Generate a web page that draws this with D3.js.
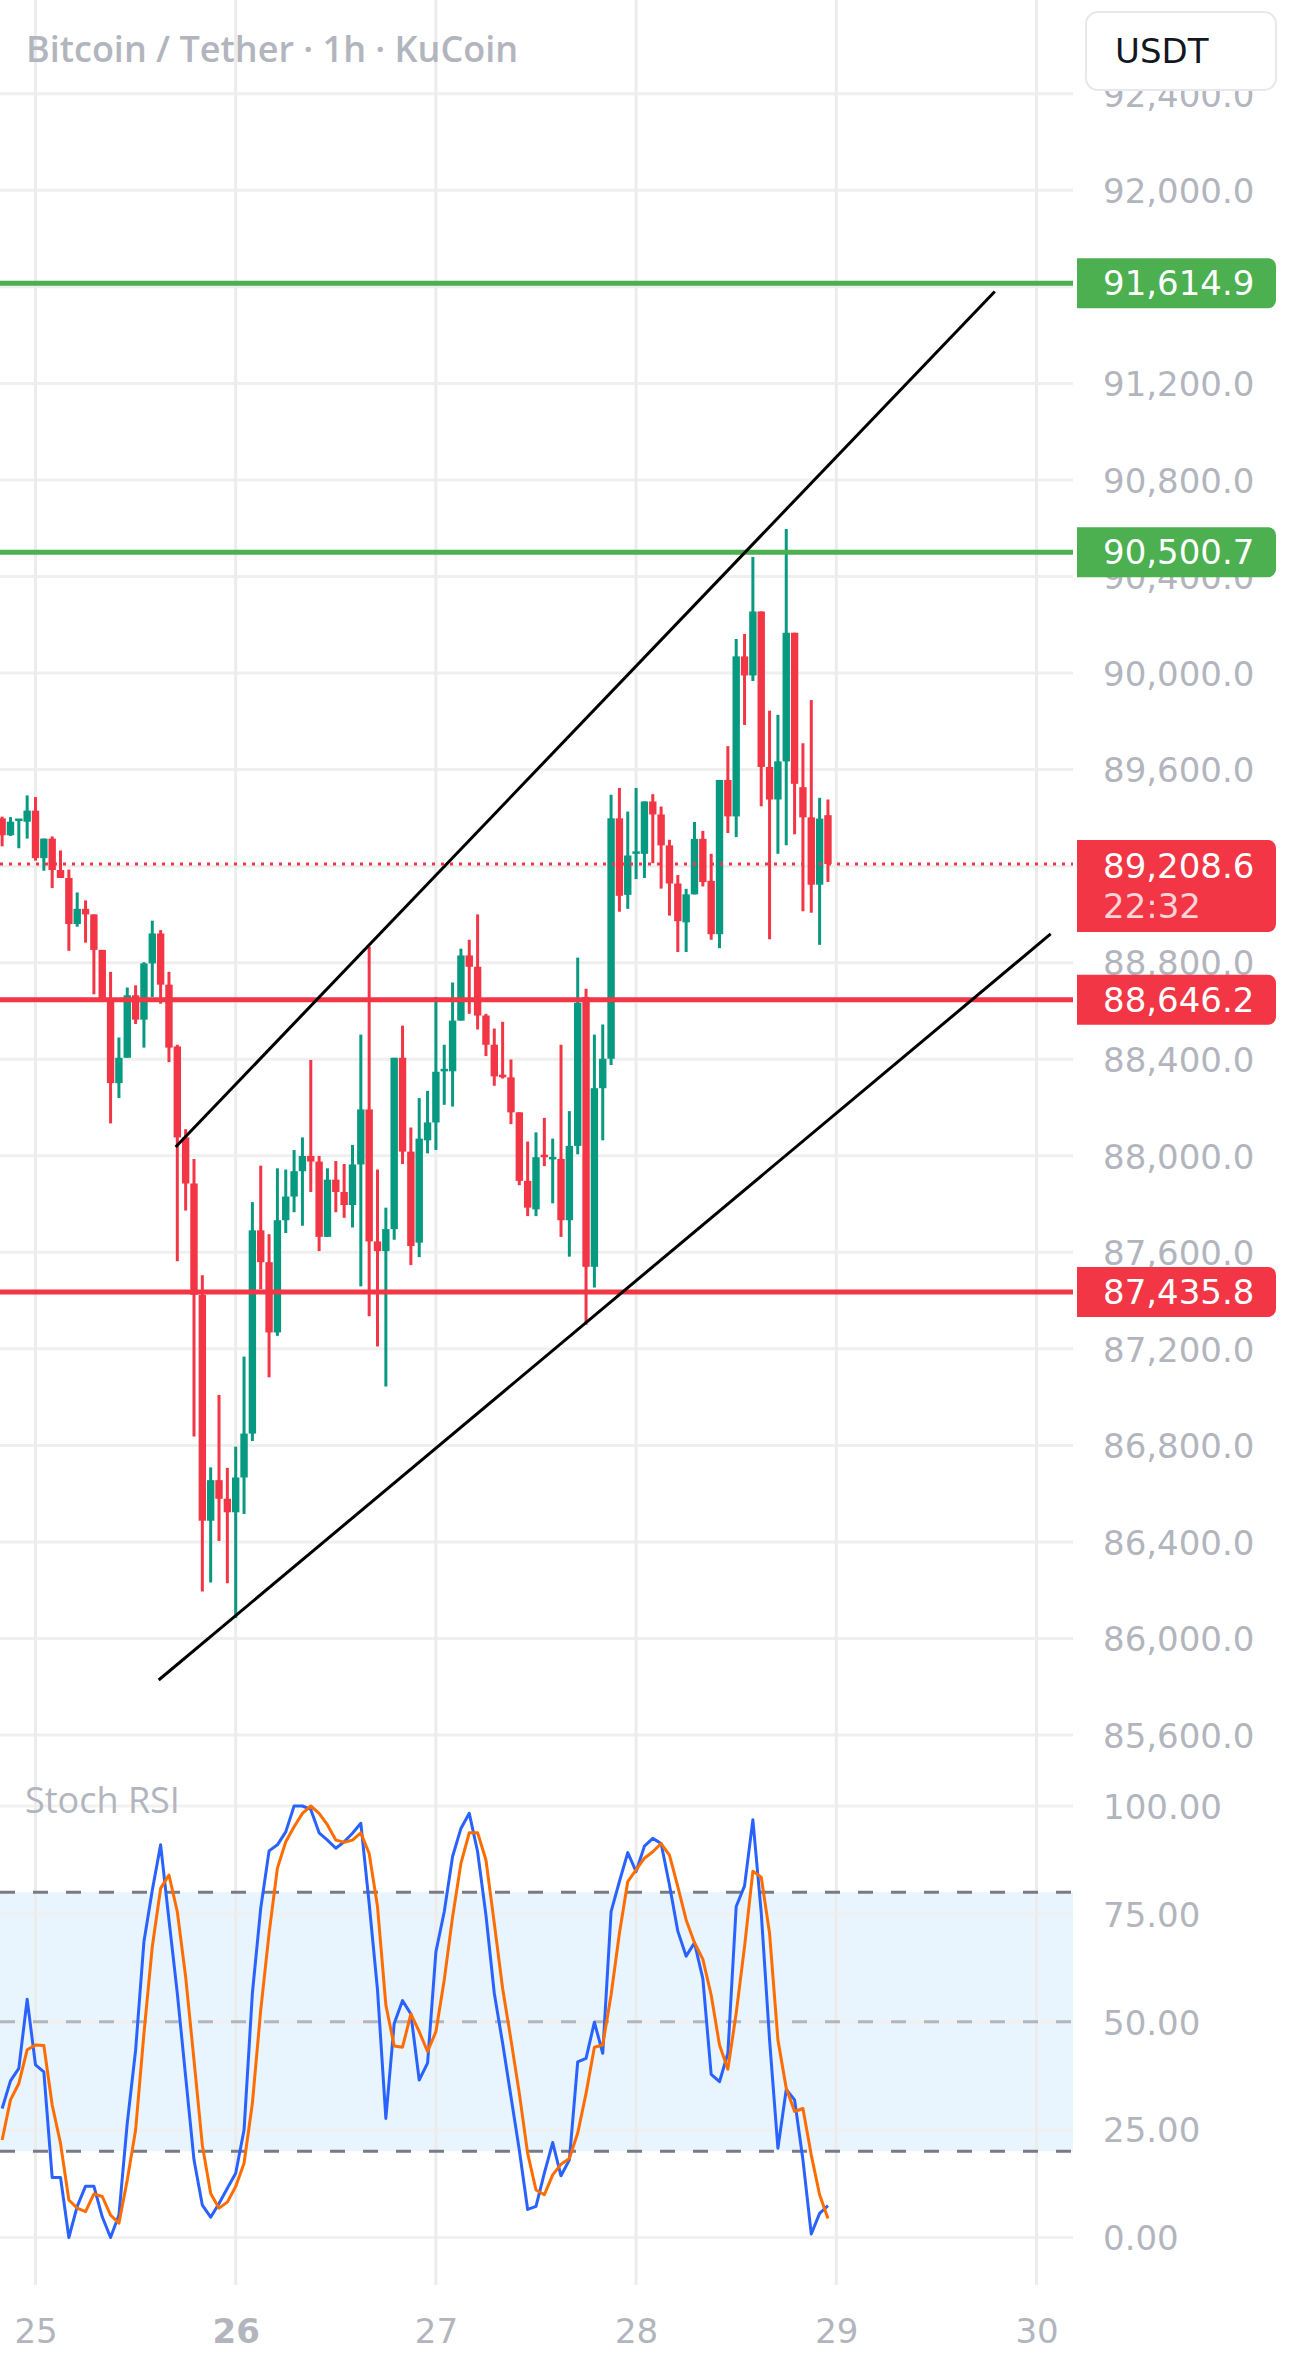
<!DOCTYPE html>
<html><head><meta charset="utf-8">
<script src="https://cdn.jsdelivr.net/npm/d3@7"></script>
<style>html,body{margin:0;padding:0;background:#fff}svg{display:block}</style>
</head><body>
<svg id="chart" width="1290" height="2370"></svg>
<script>
// ---------------- data ----------------
const title = "Bitcoin / Tether · 1h · KuCoin";
const indicatorName = "Stoch RSI";
const currency = "USDT";
const firstCandle = new Date(2025, 10, 24, 20); // hourly candles from Nov 24 20:00
const opens  = [89398,89328,89385,89384,89430,89233,89314,89184,89151,88960,89023,89000,88853,88651,88301,88406,88665,88564,88797,88921,88709,88453,88076,87885,87424,86488,86656,86579,86523,86667,86849,87691,87559,87268,87733,87831,87936,87999,87976,87664,87901,87850,87796,87964,88192,87645,87605,87696,88406,88017,87640,88064,88138,88348,88350,88560,88830,88783,88581,88460,88336,88325,88180,87896,87778,87999,87985,87987,87733,88041,88658,87540,88280,88402,89398,89081,89246,89251,89468,89414,89286,89128,88967,89083,89313,89139,88918,89557,89406,90069,89990,90255,89611,89476,89634,90167,89527,89402,89123,89411];
const highs  = [89405,89403,89392,89493,89486,89314,89323,89265,89186,89091,89058,89000,88853,88762,88490,88697,88706,88802,88974,88935,88762,88460,88110,87987,87505,86709,87009,86707,86795,87168,87808,87959,87675,87948,87943,88024,88076,88397,87999,87948,87978,87966,88045,88502,88867,87943,87785,88406,88539,88117,88239,88269,88658,88460,88718,88858,88895,89000,88588,88527,88555,88399,88180,88059,88097,88157,88071,88460,88185,88821,88692,88502,88544,89496,89524,89426,89524,89468,89498,89447,89309,89163,89106,89383,89346,89251,89557,89697,90141,90162,90481,90255,89844,89827,90597,90167,89709,89888,89483,89476];
const lows   = [89282,89325,89274,89314,89223,89181,89109,89151,88849,88949,88883,88669,88640,88134,88239,88406,88546,88448,88658,88630,88388,87563,87773,86837,86195,86232,86404,86229,86085,86516,86818,87447,87082,87254,87680,87766,87710,87850,87605,87664,87766,87743,87703,87459,87335,87210,87044,87652,87966,87547,87580,88010,88024,88211,88204,88560,88588,88523,88413,88290,88320,88131,87878,87750,87750,87957,87803,87664,87582,88006,87300,87454,88064,88376,89011,89023,89146,89151,89212,89107,88995,88844,88844,89083,89116,88895,88860,89337,89320,89785,89967,89448,88897,89251,89286,89332,89013,89007,88874,89134];
const closes = [89328,89384,89392,89430,89233,89314,89184,89151,88960,89023,89000,88853,88651,88301,88406,88665,88564,88797,88921,88709,88448,88076,87885,87424,86488,86656,86579,86523,86667,86849,87691,87559,87268,87733,87831,87936,87999,87976,87664,87901,87850,87796,87964,88192,87645,87605,87696,88406,88017,87626,88071,88138,88348,88355,88560,88830,88783,88581,88460,88329,88325,88180,87896,87785,87994,87990,87990,87733,88041,88634,87540,88280,88402,89398,89077,89244,89256,89468,89414,89286,89128,88972,89083,89313,89134,88918,89557,89406,90069,89990,90255,89611,89476,89634,90167,89541,89402,89123,89397,89208.6];
const stochK = [29.9,36.3,39.2,55.2,40.0,38.4,13.9,13.9,0,7.2,11.9,11.9,4.8,0,5.2,26.5,43.4,68.6,80.5,91.0,73.6,56.6,37.3,18.0,7.5,4.7,7.9,11.4,14.9,24.9,56.6,76.3,89.6,91.0,94.0,100,100,99.2,93.8,92.1,90.2,91.7,93.7,96.0,77.4,57.4,27.6,49.6,54.9,51.8,36.5,40.4,66.2,75.5,88.3,94.8,98.3,89.4,74.7,56.6,45.0,32.6,20.3,6.5,7.2,14.9,22.0,14.3,18.0,40.7,41.5,49.9,42.7,75.5,82.5,89.2,84.8,90.7,92.5,91.3,81.7,71.0,65.2,68.3,60.0,37.8,36.1,42.7,76.7,81.5,96.8,75.3,45.8,20.7,34.3,31.9,18.0,0.8,5.6,7.4];
const stochD = [22.6,31.9,35.7,43.5,44.6,44.5,30.7,21.8,8.7,6.8,6.0,10.1,9.5,5.2,3.3,13.3,24.9,47.3,67.4,80.9,84.0,75.5,60.4,41.1,21.4,10.2,6.8,8.2,11.8,17.2,31.1,52.7,70.5,85.6,91.7,95.2,98.3,100,98.3,95.6,92.1,91.6,92.1,93.8,89.0,76.7,53.9,44.4,44.1,51.8,47.7,43.1,47.7,59.7,74.3,86.7,93.8,93.8,87.5,72.8,57.7,45.8,33.4,19.5,11.0,9.9,14.5,17.0,18.3,24.2,33.4,44.1,44.6,56.2,70.5,82.5,85.2,87.9,89.4,91.3,88.6,81.3,73.6,68.3,64.5,56.2,44.6,39.0,52.0,67.4,84.9,83.5,70.5,45.8,34.6,29.2,29.9,19.1,9.9,4.4];
const priceTicks = [85600,86000,86400,86800,87200,87600,88000,88400,88800,89200,89600,90000,90400,90800,91200,91600,92000,92400];
const rsiTicks = [0,25,50,75,100];
const rsiBands = [80,50,20];
const dayTicks = [new Date(2025,10,25),new Date(2025,10,26),new Date(2025,10,27),new Date(2025,10,28),new Date(2025,10,29),new Date(2025,10,30)];
const boldDays = [26];
const greenLevels = [91614.9, 90500.7];
const redLevels = [88646.2, 87435.8];
const lastPrice = 89208.6;
const countdown = "22:32";
const trendUpper = [[new Date(2025,10,25,16,48), 88036], [new Date(2025,10,29,19,0), 91581]];
const trendLower = [[new Date(2025,10,25,14,46), 85828], [new Date(2025,10,30,1,42), 88919]];

// ---------------- layout ----------------
const W = 1290, H = 2370;
const plotRight = 1073;
const mainBottom = 1760;
const labelX = 1103;
const boxX0 = 1077, boxX1 = 1276;
const GREEN = "#089981", RED = "#f23645", LINE_GREEN = "#4caf50";
const AXIS_TXT = "#b2b5be", GRID = "#efefef";
const FONT = "'DejaVu Sans', sans-serif";

const times = opens.map((_, i) => d3.timeHour.offset(firstCandle, i));
const candles = times.map((t, i) => ({t, o: opens[i], h: highs[i], l: lows[i], c: closes[i]}));

const x = d3.scaleTime().domain([dayTicks[0], dayTicks[5]]).range([35.5, 1036.5]);
const y = d3.scaleLinear().domain([86000, 92000]).range([1638.5, 190.3]);
const yr = d3.scaleLinear().domain([0, 100]).range([2237.5, 1806]);
const barW = 7.4;

const svg = d3.select("#chart");
svg.append("rect").attr("width", W).attr("height", H).attr("fill", "#fff");

const defs = svg.append("defs");
defs.append("clipPath").attr("id", "mainClip").append("rect").attr("x", 0).attr("y", 0).attr("width", plotRight).attr("height", mainBottom);
defs.append("clipPath").attr("id", "rsiClip").append("rect").attr("x", 0).attr("y", mainBottom).attr("width", plotRight).attr("height", 2285 - mainBottom);

// RSI band background
svg.append("rect").attr("x", 0).attr("width", plotRight)
  .attr("y", yr(80)).attr("height", yr(20) - yr(80)).attr("fill", "rgba(33,150,243,0.1)");

// grid
const grid = svg.append("g");
grid.selectAll(".hg").data(priceTicks).join("line")
  .attr("x1", 0).attr("x2", plotRight).attr("y1", d => y(d)).attr("y2", d => y(d))
  .attr("stroke", GRID).attr("stroke-width", 3);
grid.selectAll(".rg").data(rsiTicks).join("line")
  .attr("x1", 0).attr("x2", plotRight).attr("y1", d => yr(d)).attr("y2", d => yr(d))
  .attr("stroke", GRID).attr("stroke-width", 3).attr("stroke-opacity", 0.9);
grid.selectAll(".vg").data(dayTicks).join("line")
  .attr("x1", d => x(d)).attr("x2", d => x(d)).attr("y1", 0).attr("y2", 2285)
  .attr("stroke", "#ececec").attr("stroke-width", 3);

// RSI band dashed lines
svg.selectAll(".band").data(rsiBands).join("line")
  .attr("x1", 0).attr("x2", plotRight).attr("y1", d => yr(d)).attr("y2", d => yr(d))
  .attr("stroke", "#787b86").attr("stroke-opacity", d => d === 50 ? 0.5 : 1)
  .attr("stroke-width", 3).attr("stroke-dasharray", "15,18");

// candles
const cg = svg.append("g").attr("clip-path", "url(#mainClip)");
cg.selectAll(".wick").data(candles).join("line")
  .attr("x1", d => x(d.t)).attr("x2", d => x(d.t))
  .attr("y1", d => y(d.h)).attr("y2", d => y(d.l))
  .attr("stroke", d => d.c >= d.o ? GREEN : RED).attr("stroke-width", 3);
cg.selectAll(".body").data(candles).join("rect")
  .attr("x", d => x(d.t) - barW / 2).attr("width", barW)
  .attr("y", d => Math.min(y(d.o), y(d.c)) - (Math.abs(y(d.o) - y(d.c)) < 2.5 ? 1.25 : 0))
  .attr("height", d => Math.max(2.5, Math.abs(y(d.o) - y(d.c))))
  .attr("fill", d => d.c >= d.o ? GREEN : RED);

// drawings
const dg = svg.append("g").attr("clip-path", "url(#mainClip)");
dg.selectAll(".gl").data(greenLevels).join("line")
  .attr("x1", 0).attr("x2", plotRight).attr("y1", d => y(d)).attr("y2", d => y(d))
  .attr("stroke", LINE_GREEN).attr("stroke-width", 5);
dg.selectAll(".rl").data(redLevels).join("line")
  .attr("x1", 0).attr("x2", plotRight).attr("y1", d => y(d)).attr("y2", d => y(d))
  .attr("stroke", RED).attr("stroke-width", 5);
const tl = d3.line().x(d => x(d[0])).y(d => y(d[1]));
dg.selectAll(".trend").data([trendUpper, trendLower]).join("path")
  .attr("d", tl).attr("fill", "none").attr("stroke", "#000").attr("stroke-width", 3);
// last price line
dg.append("line").attr("x1", 0).attr("x2", plotRight).attr("y1", y(lastPrice)).attr("y2", y(lastPrice))
  .attr("stroke", RED).attr("stroke-width", 3).attr("stroke-dasharray", "3,6");

// stoch rsi lines
const rg = svg.append("g").attr("clip-path", "url(#rsiClip)");
const kLine = d3.line().x((d, i) => x(times[i])).y(d => yr(d));
rg.append("path").attr("d", kLine(stochK)).attr("fill", "none").attr("stroke", "#2962ff").attr("stroke-width", 3).attr("stroke-linejoin", "round");
rg.append("path").attr("d", kLine(stochD)).attr("fill", "none").attr("stroke", "#ff6d00").attr("stroke-width", 3).attr("stroke-linejoin", "round");

// price axis
const pa = svg.append("g").attr("transform", `translate(${labelX},0)`)
  .call(d3.axisRight(y).tickValues(priceTicks).tickFormat(d3.format(",.1f")).tickSize(0).tickPadding(0));
pa.select(".domain").remove();
pa.selectAll("text").attr("fill", AXIS_TXT).style("font-family", FONT).style("font-size", "34px").attr("dy", "0.36em");

const ra = svg.append("g").attr("transform", `translate(${labelX},0)`)
  .call(d3.axisRight(yr).tickValues(rsiTicks).tickFormat(d3.format(".2f")).tickSize(0).tickPadding(0));
ra.select(".domain").remove();
ra.selectAll("text").attr("fill", AXIS_TXT).style("font-family", FONT).style("font-size", "34px").attr("dy", "0.36em");

// time axis
const ta = svg.append("g").attr("transform", "translate(0,2319)")
  .call(d3.axisBottom(x).tickValues(dayTicks).tickFormat(d3.timeFormat("%-d")).tickSize(0).tickPadding(0));
ta.select(".domain").remove();
ta.selectAll("text").attr("fill", AXIS_TXT).style("font-family", FONT).style("font-size", "34px")
  .style("font-weight", d => boldDays.includes(d.getDate()) ? "bold" : "normal").attr("dy", "0.71em");

// price label boxes
function boxPath(y0, y1, r) {
  return `M${boxX0},${y0}H${boxX1 - r}A${r},${r} 0 0 1 ${boxX1},${y0 + r}V${y1 - r}A${r},${r} 0 0 1 ${boxX1 - r},${y1}H${boxX0}Z`;
}
const fmt = d3.format(",.1f");
const levelLabels = greenLevels.map(v => ({v, col: LINE_GREEN})).concat(redLevels.map(v => ({v, col: RED})));
levelLabels.forEach(d => {
  const cy = y(d.v);
  svg.append("path").attr("d", boxPath(cy - 25, cy + 25, 8)).attr("fill", d.col);
  svg.append("text").attr("x", labelX).attr("y", cy).attr("dy", "0.36em").text(fmt(d.v))
    .attr("fill", "#fff").style("font-family", FONT).style("font-size", "34px");
});
{
  const cy = y(lastPrice);
  svg.append("path").attr("d", boxPath(cy - 24, cy + 68, 8)).attr("fill", RED);
  svg.append("text").attr("x", labelX).attr("y", cy + 2).attr("dy", "0.36em").text(fmt(lastPrice))
    .attr("fill", "#fff").style("font-family", FONT).style("font-size", "34px");
  svg.append("text").attr("x", labelX).attr("y", cy + 42).attr("dy", "0.36em").text(countdown)
    .attr("fill", "#fff").attr("fill-opacity", 0.8).style("font-family", FONT).style("font-size", "34px");
}

// currency button
svg.append("rect").attr("x", 1086).attr("y", 12).attr("width", 190).attr("height", 78).attr("rx", 12)
  .attr("fill", "#fff").attr("stroke", "#e6e8ee").attr("stroke-width", 2);
svg.append("text").attr("x", 1115).attr("y", 51).attr("dy", "0.36em").text(currency)
  .attr("fill", "#131722").style("font-family", FONT).style("font-size", "34px");

// titles
svg.append("text").attr("x", 26).attr("y", 62).text(title)
  .attr("fill", AXIS_TXT).style("font-family", "'Open Sans', sans-serif").style("font-size", "36px").style("font-weight", 600);
svg.append("text").attr("x", 25).attr("y", 1813).text(indicatorName)
  .attr("fill", AXIS_TXT).style("font-family", "'Open Sans', sans-serif").style("font-size", "36px");
</script>
</body></html>
